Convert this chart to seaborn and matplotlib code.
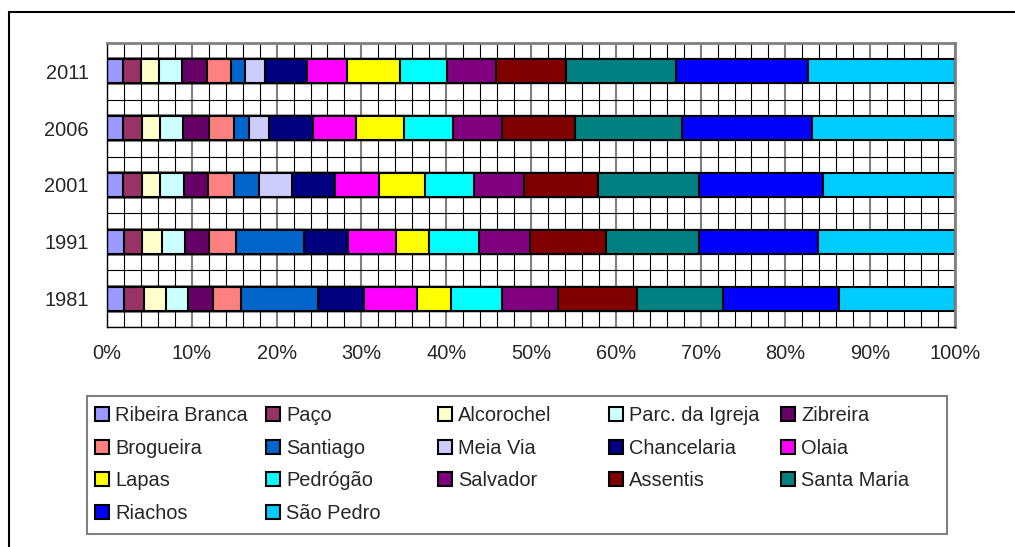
import pandas as pd
import matplotlib
matplotlib.use("Agg")
import matplotlib.pyplot as plt
import seaborn as sns
from matplotlib.patches import Patch, Rectangle
from matplotlib.lines import Line2D
from matplotlib.ticker import MultipleLocator, FixedLocator, PercentFormatter

# anos (de cima para baixo) e freguesias pela ordem da legenda
anos = ["2011", "2006", "2001", "1991", "1981"]
freguesias = ["Ribeira Branca", "Paço", "Alcorochel", "Parc. da Igreja", "Zibreira",
              "Brogueira", "Santiago", "Meia Via", "Chancelaria", "Olaia",
              "Lapas", "Pedrógão", "Salvador", "Assentis", "Santa Maria",
              "Riachos", "São Pedro"]
cores = ["#9999FF", "#993366", "#FFFFCC", "#CCFFFF", "#660066",
         "#FF8080", "#0066CC", "#CCCCFF", "#000080", "#FF00FF",
         "#FFFF00", "#00FFFF", "#800080", "#800000", "#008080",
         "#0000FF", "#00CCFF"]

# percentagem de cada freguesia em cada ano
v2011 = [1.93, 2.04, 2.16, 2.75, 2.87, 2.91, 1.61, 2.32, 4.96, 4.79, 6.21, 5.58, 5.77, 8.23, 12.97, 15.60, 17.30]
v2006 = [1.93, 2.16, 2.16, 2.75, 3.03, 2.95, 1.77, 2.39, 5.11, 5.11, 5.70, 5.78, 5.78, 8.57, 12.66, 15.25, 16.90]
v2001 = [1.93, 2.16, 2.20, 2.83, 2.83, 3.03, 2.98, 3.90, 4.99, 5.26, 5.39, 5.78, 5.89, 8.77, 11.91, 14.62, 15.53]
v1991 = [2.04, 2.05, 2.36, 2.75, 2.87, 3.18, 7.98, 0.00, 5.23, 5.62, 3.92, 5.87, 6.01, 8.92, 11.05, 14.03, 16.12]
v1981 = [2.04, 2.32, 2.56, 2.67, 2.95, 3.30, 9.04, 0.00, 5.43, 6.21, 4.05, 6.05, 6.60, 9.24, 10.22, 13.64, 13.68]

W, H = 1015, 547

sns.set_style("white")
plt.rcParams["font.family"] = ["Liberation Sans", "DejaVu Sans"]
plt.rcParams["font.size"] = 14.4

df = pd.DataFrame({"2011": v2011, "2006": v2006, "2001": v2001,
                   "1991": v1991, "1981": v1981}, index=freguesias).T
df = df.div(df.sum(axis=1), axis=0) * 100
cum = df.cumsum(axis=1)
cum["Ano"] = cum.index

fig = plt.figure(figsize=(W / 100, H / 100), dpi=100)
ax = fig.add_axes([107 / W, 1 - 327 / H, 848 / W, 284 / H])

# barras empilhadas: acumulados desenhados do maior para o menor
for nome, cor in reversed(list(zip(freguesias, cores))):
    sns.barplot(data=cum, x=nome, y="Ano", order=anos, orient="h", color=cor,
                saturation=1, edgecolor="black", linewidth=1.5, width=0.42, ax=ax)

ax.set_xlim(0, 100)
ax.set_ylim(4.5, -0.5)
ax.set_xlabel("")
ax.set_ylabel("")

ax.set_axisbelow(True)
ax.xaxis.set_major_locator(MultipleLocator(10))
ax.xaxis.set_minor_locator(MultipleLocator(2))
ax.xaxis.set_major_formatter(PercentFormatter(xmax=100, decimals=0))
ax.yaxis.set_minor_locator(FixedLocator([-0.5, 0.5, 1.5, 2.5, 3.5, 4.5]))
ax.grid(which="minor", axis="x", color="black", lw=0.8)
ax.grid(which="major", axis="x", color="#808080", lw=1.5)
ax.grid(which="minor", axis="y", color="black", lw=0.8)
ax.grid(which="major", axis="y", visible=False)

ax.tick_params(axis="y", which="major", length=0, pad=13, labelsize=14.4)
ax.tick_params(axis="y", which="minor", length=5, width=1, color="black")
ax.tick_params(axis="x", which="major", length=5, width=1, color="black", pad=7, labelsize=14.4)
ax.tick_params(axis="x", which="minor", length=0)

for lado in ["left", "bottom"]:
    ax.spines[lado].set_color("black")
    ax.spines[lado].set_linewidth(1)
for lado in ["top", "right"]:
    ax.spines[lado].set_color("#808080")
    ax.spines[lado].set_linewidth(2)

# legenda em 5 colunas de largura igual
col_x = [95, 266, 438, 609, 781]
for j in range(5):
    idx = list(range(j, len(freguesias), 5))
    handles = [Patch(facecolor=cores[i], edgecolor="black", linewidth=1.5) for i in idx]
    fig.legend(handles, [freguesias[i] for i in idx], loc="upper left",
               bbox_to_anchor=(col_x[j] / W, 1 - 406 / H), frameon=False,
               borderpad=0, borderaxespad=0, handlelength=0.7, handleheight=0.7,
               handletextpad=0.3, labelspacing=0.68, fontsize=14.4)

fig.add_artist(Rectangle((87 / W, 1 - 534 / H), 860 / W, 138 / H, transform=fig.transFigure,
                         fill=False, edgecolor="#808080", lw=1.5))

# moldura exterior do grafico
fig.add_artist(Line2D([9 / W, 9 / W], [0, 1 - 12 / H], transform=fig.transFigure, color="black", lw=1.5))
fig.add_artist(Line2D([9 / W, 1], [1 - 12 / H, 1 - 12 / H], transform=fig.transFigure, color="black", lw=1.5))

fig.savefig("out.png", dpi=100)
